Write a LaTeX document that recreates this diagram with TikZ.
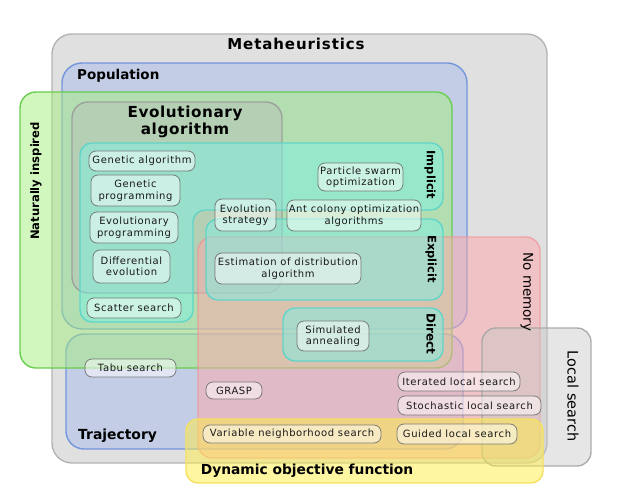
\documentclass[tikz,border=0pt]{standalone}
\usepackage{fontspec}
\setmainfont{DejaVu Sans}
\newfontfamily\bxfont[LetterSpace=6]{DejaVu Sans}
\newfontfamily\ttlfont[LetterSpace=6]{DejaVu Sans Bold}
\newfontfamily\eafont[LetterSpace=4]{DejaVu Sans Bold}
\definecolor{metaF}{RGB}{224,224,224}
\definecolor{metaD}{RGB}{180,180,180}
\definecolor{popF}{RGB}{168,188,236}
\definecolor{popD}{RGB}{115,150,220}
\definecolor{grnF}{RGB}{165,239,125}
\definecolor{grnD}{RGB}{105,205,80}
\definecolor{eaF}{RGB}{185,185,185}
\definecolor{eaD}{RGB}{150,150,150}
\definecolor{cyF}{RGB}{124,240,228}
\definecolor{cyD}{RGB}{90,212,202}
\definecolor{redF}{RGB}{255,168,172}
\definecolor{redD}{RGB}{240,145,145}
\definecolor{lsF}{RGB}{200,200,200}
\definecolor{lsD}{RGB}{165,165,165}
\definecolor{yelF}{RGB}{255,238,70}
\definecolor{yelD}{RGB}{245,225,95}
\definecolor{bxD}{RGB}{105,105,105}
\definecolor{bxT}{RGB}{25,25,25}
\begin{document}
\begin{tikzpicture}[x=1pt,y=-1pt,
  metaS/.style={fill=metaF,draw=metaD,line width=1.4pt},
  popS/.style={fill=popF,fill opacity=.5,draw=popD,line width=1.4pt},
  grnS/.style={fill=grnF,fill opacity=.5,draw=grnD,line width=1.4pt},
  eaS/.style={fill=eaF,fill opacity=.4,draw=eaD,draw opacity=.8,line width=1.4pt},
  cyS/.style={fill=cyF,fill opacity=.5,draw=cyD,draw opacity=.9,line width=1.4pt},
  redS/.style={fill=redF,fill opacity=.5,draw=redD,draw opacity=.7,line width=1.4pt},
  lsS/.style={fill=lsF,fill opacity=.45,draw=lsD,draw opacity=.9,line width=1.4pt},
  yelS/.style={fill=yelF,fill opacity=.5,draw=yelD,line width=1.4pt},
  box/.style={draw=bxD,draw opacity=.85,fill=white,fill opacity=.5,text opacity=1,
    text=bxT,rounded corners=7pt,line width=.8pt,inner sep=0pt,align=center,
    font=\bxfont\fontsize{10}{11.5}\selectfont},
  blbl/.style={inner sep=0pt,font=\bfseries\fontsize{#1}{#1}\selectfont},
  rlbl/.style={inner sep=0pt,font=\fontsize{#1}{#1}\selectfont}
]
\useasboundingbox (0,0) rectangle (631,484);
% regions
\draw[metaS,rounded corners=20pt] (52,34) rectangle (547,463);
\draw[popS,rounded corners=20pt] (62,63) rectangle (467,329);
\draw[popS,rounded corners=18pt] (66,334) rectangle (463,449);
\draw[grnS,rounded corners=16pt] (20,92) rectangle (452,368);
\draw[eaS,rounded corners=16pt] (72,102) rectangle (282,293);
\draw[redS,rounded corners=14pt] (198,237) rectangle (540,458);
\draw[cyS,rounded corners=12pt] (80,143) -- (443,143) -- (443,210) -- (193,210) -- (193,322) -- (80,322) -- cycle;
\draw[cyS,rounded corners=12pt] (206,219) rectangle (443,300);
\draw[cyS,rounded corners=12pt] (283,308) rectangle (443,361);
\draw[lsS,rounded corners=14pt] (482,328) rectangle (591,466);
\draw[yelS,rounded corners=12pt] (186,419) rectangle (543,483);
% region labels
\node[inner sep=0pt,font=\ttlfont\fontsize{15}{15}\selectfont] (meta) at (296,44) {Metaheuristics};
\node[blbl=13.5,anchor=west] (pop) at (77,76) {Population};
\node[inner sep=0pt,align=center,font=\eafont\fontsize{15.2}{17}\selectfont] (ea) at (185,122) {Evolutionary\\algorithm};
\node[blbl=11.6,rotate=90] (nat) at (36,181) {Naturally inspired};
\node[blbl=11.5,rotate=-90] (impl) at (430,175) {Implicit};
\node[blbl=11.5,rotate=-90] (expl) at (431,259) {Explicit};
\node[blbl=12,rotate=-90] (dir) at (431,334) {Direct};
\node[rlbl=13.5,rotate=-90] (nomem) at (527,292) {No memory};
\node[rlbl=14.5,rotate=-90] (locs) at (573,396) {Local search};
\node[blbl=13.9,anchor=west] (traj) at (78,436) {Trajectory};
\node[blbl=13.8] (dyn) at (307,471) {Dynamic objective function};
% algorithm boxes
\node[box,minimum width=106pt,minimum height=20pt] (ga) at (142,161) {Genetic algorithm};
\node[box,minimum width=89pt,minimum height=31pt] (gp) at (135.5,190.5) {Genetic\\programming};
\node[box,minimum width=88pt,minimum height=31pt] (ep) at (134,227.5) {Evolutionary\\programming};
\node[box,minimum width=77pt,minimum height=33pt] (de) at (131.5,266.5) {Differential\\evolution};
\node[box,minimum width=94pt,minimum height=20pt] (ss) at (134,308) {Scatter search};
\node[box,minimum width=61pt,minimum height=32pt] (es) at (245.5,215) {Evolution\\strategy};
\node[box,minimum width=85pt,minimum height=28pt] (pso) at (360.5,177) {Particle swarm\\optimization};
\node[box,minimum width=134pt,minimum height=31pt] (aco) at (354,215.5) {Ant colony optimization\\algorithms};
\node[box,minimum width=146pt,minimum height=31pt] (eda) at (288,268.5) {Estimation of distribution\\algorithm};
\node[box,minimum width=72pt,minimum height=30pt] (sa) at (333,336) {Simulated\\annealing};
\node[box,minimum width=91pt,minimum height=18pt] (tabu) at (130.5,368) {Tabu search};
\node[box,minimum width=56pt,minimum height=17pt] (grasp) at (234,390.5) {GRASP};
\node[box,minimum width=178pt,minimum height=18pt] (vns) at (292,434) {Variable neighborhood search};
\node[box,minimum width=122pt,minimum height=19pt] (ils) at (459,381.5) {Iterated local search};
\node[box,minimum width=143pt,minimum height=19pt] (sls) at (469.5,405.5) {Stochastic local search};
\node[box,minimum width=120pt,minimum height=20pt] (gls) at (457,434) {Guided local search};
\end{tikzpicture}
\end{document}
